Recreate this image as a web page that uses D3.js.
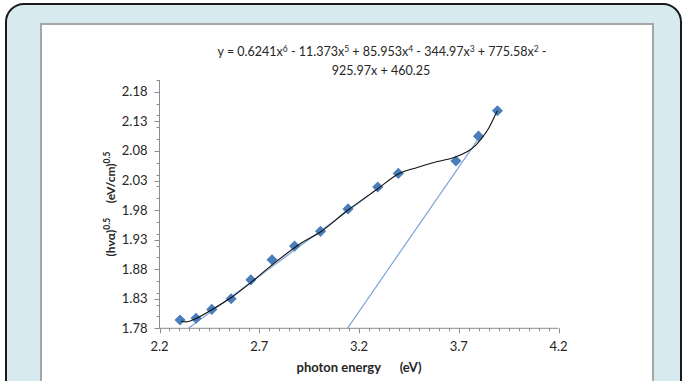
<!DOCTYPE html>
<html>
<head>
<meta charset="utf-8">
<title>Tauc plot</title>
<script src="https://cdn.jsdelivr.net/npm/d3@7"></script>
<style>
    html, body {
        margin: 0;
        padding: 0;
        background: white;
        overflow: hidden;
    }
    text {
        font-family: Lato, "Open Sans", sans-serif;
        fill: #262626;
    }
    .axis-title {
        font-weight: bold;
    }
</style>
</head>
<body>
<div id="graph"></div>
<script>
    // measured points: photon energy (eV) and (h nu alpha)^0.5
    var energy = [2.303, 2.383, 2.462, 2.559, 2.658, 2.764, 2.877, 3.007, 3.145, 3.294, 3.397, 3.686, 3.799, 3.894];
    var tauc   = [1.794, 1.797, 1.812, 1.830, 1.862, 1.896, 1.919, 1.944, 1.982, 2.019, 2.042, 2.063, 2.105, 2.148];

    // 6th order trend line
    var trendX = [2.309, 2.34, 2.38, 2.46, 2.56, 2.66, 2.76, 2.905, 3.007, 3.145, 3.294, 3.397, 3.492, 3.593, 3.676, 3.744, 3.786, 3.844, 3.886, 3.894];
    var trendY = [1.792, 1.791, 1.796, 1.811, 1.832, 1.858, 1.886, 1.923, 1.943, 1.980, 2.016, 2.041, 2.052, 2.062, 2.069, 2.079, 2.090, 2.115, 2.143, 2.148];

    // the two straight extrapolation lines
    var lowLineX = [2.345, 3.25];
    var lowLineY = [1.78, 2.005];
    var gapLineX = [3.142, 3.793];
    var gapLineY = [1.78, 2.098];

    var xTicks = [2.2, 2.7, 3.2, 3.7, 4.2];
    var yTicks = [1.78, 1.83, 1.88, 1.93, 1.98, 2.03, 2.08, 2.13, 2.18];

    var equation1 = ["y = 0.6241x", "6", " - 11.373x", "5", " + 85.953x", "4", " - 344.97x", "3", " + 775.58x", "2", " -"];
    var equation2 = "925.97x + 460.25";

    var W = 685, H = 381;
    var svg = d3.select("#graph").append("svg")
        .attr("width", W)
        .attr("height", H);

    // frame: light blue card with dark rounded border, white chart panel
    svg.append("rect")
        .attr("x", 6).attr("y", 4)
        .attr("width", 675).attr("height", 420)
        .attr("rx", 18)
        .attr("fill", "#d6eaf0")
        .attr("stroke", "#1a1a1a")
        .attr("stroke-width", 2);

    svg.append("rect")
        .attr("x", 41).attr("y", 24)
        .attr("width", 612).attr("height", 400)
        .attr("fill", "white")
        .attr("stroke", "#a6a6a6")
        .attr("stroke-width", 2);

    var x = d3.scaleLinear().domain([2.2, 4.2]).range([159.5, 558.5]);
    var y = d3.scaleLinear().domain([1.78, 2.2]).range([328.3, 80]);

    var axisColor = "#8c8c8c";

    // x axis with minor ticks every 0.05
    var xMinor = d3.range(0, 41).map(function(i) { return 2.2 + i * 0.05; });
    var gx = svg.append("g").attr("transform", "translate(0," + y(1.78) + ")");
    gx.append("line")
        .attr("x1", x(2.2)).attr("x2", x(4.2))
        .attr("stroke", axisColor);
    gx.selectAll(".minor").data(xMinor).enter().append("line")
        .attr("x1", function(d) { return Math.round(x(d)) + 0.5; })
        .attr("x2", function(d) { return Math.round(x(d)) + 0.5; })
        .attr("y1", 0)
        .attr("y2", function(d, i) { return i % 10 == 0 ? 5 : 3; })
        .attr("stroke", axisColor);
    gx.selectAll(".lbl").data(xTicks).enter().append("text")
        .attr("x", function(d) { return x(d); })
        .attr("y", 23)
        .attr("text-anchor", "middle")
        .style("font-size", "13px")
        .text(function(d) { return d.toFixed(1); });

    // y axis with minor ticks every 0.02, labels every 0.05
    var yMinor = d3.range(0, 22).map(function(i) { return 1.78 + i * 0.02; });
    var gy = svg.append("g").attr("transform", "translate(" + x(2.2) + ",0)");
    gy.append("line")
        .attr("y1", y(1.78)).attr("y2", y(2.2))
        .attr("stroke", axisColor);
    gy.selectAll(".minor").data(yMinor).enter().append("line")
        .attr("y1", function(d) { return Math.round(y(d)) + 0.5; })
        .attr("y2", function(d) { return Math.round(y(d)) + 0.5; })
        .attr("x1", -3).attr("x2", 0)
        .attr("stroke", axisColor);
    gy.selectAll(".major").data(yTicks).enter().append("line")
        .attr("y1", function(d) { return Math.round(y(d)) + 0.5; })
        .attr("y2", function(d) { return Math.round(y(d)) + 0.5; })
        .attr("x1", -5).attr("x2", 0)
        .attr("stroke", axisColor);
    gy.selectAll(".lbl").data(yTicks).enter().append("text")
        .attr("x", -12)
        .attr("y", function(d) { return y(d) + 4.5; })
        .attr("text-anchor", "end")
        .style("font-size", "13px")
        .text(function(d) { return d.toFixed(2); });

    // axis titles
    svg.append("text")
        .attr("class", "axis-title")
        .attr("x", 359).attr("y", 372)
        .attr("text-anchor", "middle")
        .style("font-size", "13px")
        .attr("xml:space", "preserve")
        .text("photon energy      (eV)");

    var yt = svg.append("text")
        .attr("class", "axis-title")
        .attr("transform", "translate(115,204) rotate(-90)")
        .attr("text-anchor", "middle")
        .style("font-size", "12px")
        .attr("xml:space", "preserve");
    yt.append("tspan").text("(hνα)");
    yt.append("tspan").attr("dy", -5).style("font-size", "8.5px").text("0.5");
    yt.append("tspan").attr("dy", 5).text("     (eV/cm)");
    yt.append("tspan").attr("dy", -5).style("font-size", "8.5px").text("0.5");

    // trend line equation
    var eq = svg.append("text")
        .attr("x", 382).attr("y", 56)
        .attr("text-anchor", "middle")
        .style("font-size", "12.5px")
        .attr("xml:space", "preserve");
    equation1.forEach(function(s, i) {
        var sup = i % 2 == 1;
        eq.append("tspan")
            .attr("dy", sup ? -4.5 : (i > 0 ? 4.5 : 0))
            .style("font-size", sup ? "8.5px" : "12.5px")
            .text(s);
    });
    svg.append("text")
        .attr("x", 381).attr("y", 75)
        .attr("text-anchor", "middle")
        .style("font-size", "12.5px")
        .text(equation2);

    // straight lines
    var line = d3.line()
        .x(function(d) { return x(d[0]); })
        .y(function(d) { return y(d[1]); });

    svg.append("path")
        .datum(d3.zip(lowLineX, lowLineY))
        .attr("d", line)
        .attr("fill", "none")
        .attr("stroke", "#7ea6d6")
        .attr("stroke-width", 1.2);

    svg.append("path")
        .datum(d3.zip(gapLineX, gapLineY))
        .attr("d", line)
        .attr("fill", "none")
        .attr("stroke", "#7ea6d6")
        .attr("stroke-width", 1.2);

    // points
    svg.selectAll(".pt")
        .data(d3.zip(energy, tauc))
        .enter().append("path")
        .attr("class", "pt")
        .attr("d", d3.symbol().type(d3.symbolSquare).size(62))
        .attr("transform", function(d) {
            return "translate(" + x(d[0]) + "," + y(d[1]) + ") rotate(45)";
        })
        .attr("fill", "#4a7ebb");

    // trend curve drawn over the markers
    svg.append("path")
        .datum(d3.zip(trendX, trendY))
        .attr("d", line.curve(d3.curveCatmullRom))
        .attr("fill", "none")
        .attr("stroke", "#111")
        .attr("stroke-width", 1.1);
</script>
</body>
</html>
